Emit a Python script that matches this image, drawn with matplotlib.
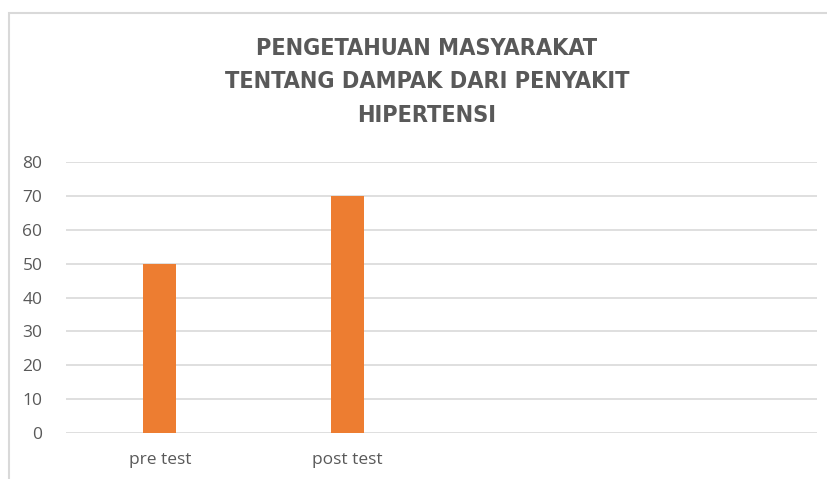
import matplotlib
matplotlib.use("Agg")
import matplotlib.pyplot as plt
from matplotlib.patches import Rectangle

categories = ["pre test", "post test", "", ""]
values = [50, 70, 0, 0]
yticks = [0, 10, 20, 30, 40, 50, 60, 70, 80]
title = "PENGETAHUAN MASYARAKAT\nTENTANG DAMPAK DARI PENYAKIT\nHIPERTENSI"

W, H = 828, 479
fig = plt.figure(figsize=(W / 100, H / 100), dpi=100)
fig.patch.set_facecolor("white")

# outer chart frame
fig.add_artist(Rectangle((9 / W, -0.05), 1.2, (H - 13) / H + 0.05, transform=fig.transFigure,
                         fill=False, edgecolor="#d9d9d9", linewidth=1.5))

ax = fig.add_axes([66 / W, 1 - 433 / H, (817 - 66) / W, (433 - 162) / H])
x = list(range(len(categories)))
bars_x = [i for i, v in enumerate(values) if categories[i]]
ax.bar([x[i] for i in bars_x], [values[i] for i in bars_x], width=0.176, color="#ed7d31", zorder=3)
ax.set_xlim(-0.5, len(categories) - 0.5)
ax.set_ylim(0, 80)
ax.set_yticks(yticks)
ax.set_xticks(x)
ax.set_xticklabels(categories)
ax.yaxis.grid(True, color="#d9d9d9", linewidth=1.2, zorder=0)
ax.set_axisbelow(True)
for s in ax.spines.values():
    s.set_visible(False)
ax.tick_params(axis="both", length=0, colors="#595959", labelsize=12.5)
ax.tick_params(axis="y", pad=17)
ax.tick_params(axis="x", pad=14)
for lab in ax.get_xticklabels() + ax.get_yticklabels():
    lab.set_fontfamily("Open Sans")

fig.text(427 / W, 1 - 82 / H, title, ha="center", va="center", fontsize=16.8,
         fontweight="bold", color="#595959", family="DejaVu Sans", fontstretch="condensed",
         linespacing=1.6)

fig.savefig("out.png", dpi=100, facecolor="white")
